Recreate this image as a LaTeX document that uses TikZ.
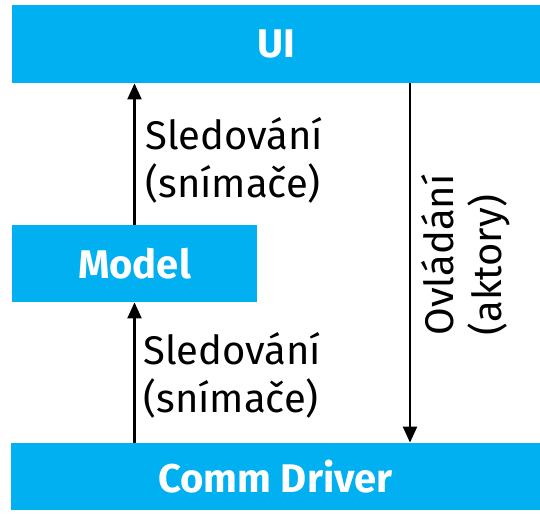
\documentclass[tikz,border=0pt]{standalone}
\usepackage{fontspec}
\setmainfont{Fira Sans}
\definecolor{layerblue}{RGB}{0, 176, 240}
\usetikzlibrary{arrows.meta, positioning, calc}

\begin{document}
\begin{tikzpicture}[x=0.5pt, y=0.5pt,
  layer/.style={fill=layerblue, draw=none, text=white, font=\fontsize{20}{24}\selectfont\bfseries, inner sep=0pt, align=center},
  flow/.style={-{Triangle[length=8pt, width=7pt]}, line width=1.1pt},
  note/.style={font=\fontsize{20}{24}\selectfont, inner sep=0pt, align=left}]
  \useasboundingbox (0,0) rectangle (540,515);

  % Layers
  \node[layer, minimum width=264pt, minimum height=39pt] (ui) at (276, 471) {UI};
  \node[layer, minimum width=122.5pt, minimum height=38.5pt] (model) at (134.5, 251.5) {Model};
  \node[layer, minimum width=264.5pt, minimum height=33.5pt] (comm) at (275.5, 38.5) {Comm Driver};

  % Monitoring, upwards
  \draw[flow] (model.north) -- (model.north |- ui.south);
  \draw[flow] (model.south |- comm.north) -- (model.south);
  \node[note, anchor=west] (mon1) at (145, 355) {Sledování\\(snímače)};
  \node[note, anchor=west] (mon2) at (143, 140) {Sledování\\(snímače)};

  % Control, downwards
  \coordinate (ctl) at ($(ui.south)+(67pt,0)$);
  \draw[flow] (ctl) -- (ctl |- comm.north);
  \node[note, rotate=90] (act) at (466, 260) {Ovládání\\(aktory)};
\end{tikzpicture}
\end{document}
